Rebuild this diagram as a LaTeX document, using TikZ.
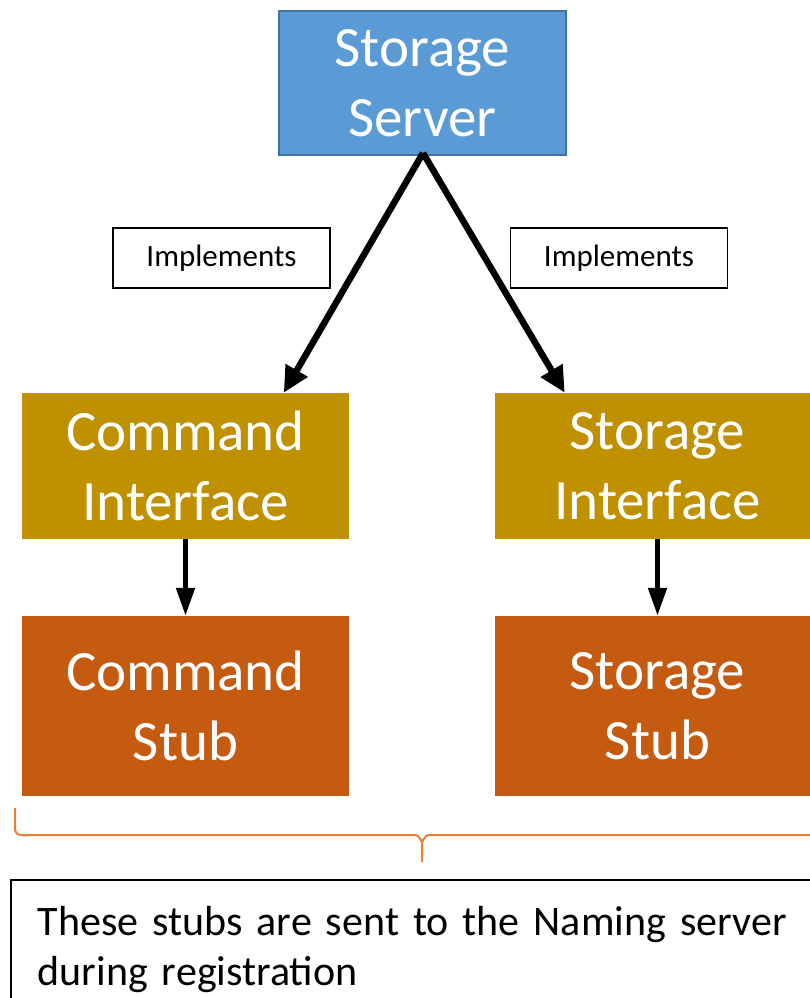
\documentclass[tikz,border=0pt]{standalone}
\usepackage{fontspec}
\setmainfont{Carlito}
\usetikzlibrary{arrows.meta,calc}
\definecolor{srvblue}{HTML}{5B9BD5}
\definecolor{srvedge}{HTML}{41719C}
\definecolor{ifgold}{HTML}{BF9000}
\definecolor{stuborange}{HTML}{C55A11}
\definecolor{braceorange}{HTML}{ED7D31}
\tikzset{
  bigbox/.style={rectangle, text=white, align=center, inner sep=0pt,
    font=\fontsize{57}{70}\selectfont},
  implbox/.style={rectangle, draw=black, line width=1.5pt, inner sep=0pt,
    minimum width=217pt, minimum height=60pt, font=\fontsize{31}{36}\selectfont},
  bigarrow/.style={line width=6.5pt, -{Triangle[length=26pt,width=24pt]}},
  smallarrow/.style={line width=5pt, -{Triangle[length=28pt,width=18pt]}},
}
\begin{document}
\begin{tikzpicture}[x=1pt,y=-1pt]
\useasboundingbox (0,0) rectangle (810,998);
\clip (0,0) rectangle (810,998);
% top server
\node[bigbox, fill=srvblue, draw=srvedge, line width=2pt,
  minimum width=287pt, minimum height=144pt] (ss) at (422.5,83) {Storage\\Server};
% interfaces
\node[bigbox, fill=ifgold, minimum width=327pt, minimum height=146pt] (ci) at (185.5,466) {Command\\Interface};
\node[bigbox, fill=ifgold, minimum width=325pt, minimum height=146pt] (si) at (657.5,466) {Storage\\Interface};
% stubs
\node[bigbox, fill=stuborange, minimum width=327pt, minimum height=180pt] (cs) at (185.5,706) {Command\\Stub};
\node[bigbox, fill=stuborange, minimum width=325pt, minimum height=180pt] (st) at (657.5,706) {Storage\\Stub};
% implements labels
\node[implbox] (il) at (221.5,258) {Implements};
\node[implbox] (ir) at (619,258) {Implements};
% arrows
\coordinate (ssbot) at (423,153);
\coordinate (citip) at ($(ci.north west)!0.800!(ci.north east)$);
\coordinate (sitip) at ($(si.north west)!0.215!(si.north east)$);
\draw[bigarrow] (ssbot) -- (citip);
\draw[bigarrow] (ssbot) -- (sitip);
\draw[smallarrow] (ci.south) -- (cs.north);
\draw[smallarrow] (si.south) -- (st.north);
% brace
\coordinate (bl) at (15,808);
\coordinate (bm) at (422,862);
\draw[braceorange, line width=2pt]
  (bl) -- (15,829) to[out=-90,in=180] (21,835) -- (416,835)
  to[out=0,in=-90] (422,841) -- (bm);
\draw[braceorange, line width=2pt]
  (422,841) to[out=-90,in=180] (428,835) -- (830,835);
% note
\node[rectangle, draw=black, line width=1.5pt, anchor=north west,
  minimum width=820pt, minimum height=140pt, inner xsep=27pt, inner ysep=24pt,
  text width=790pt, align=left, font=\fontsize{42}{50}\selectfont] (note) at (10,879)
  {These stubs are sent to the Naming server\\during registration};
\end{tikzpicture}
\end{document}
